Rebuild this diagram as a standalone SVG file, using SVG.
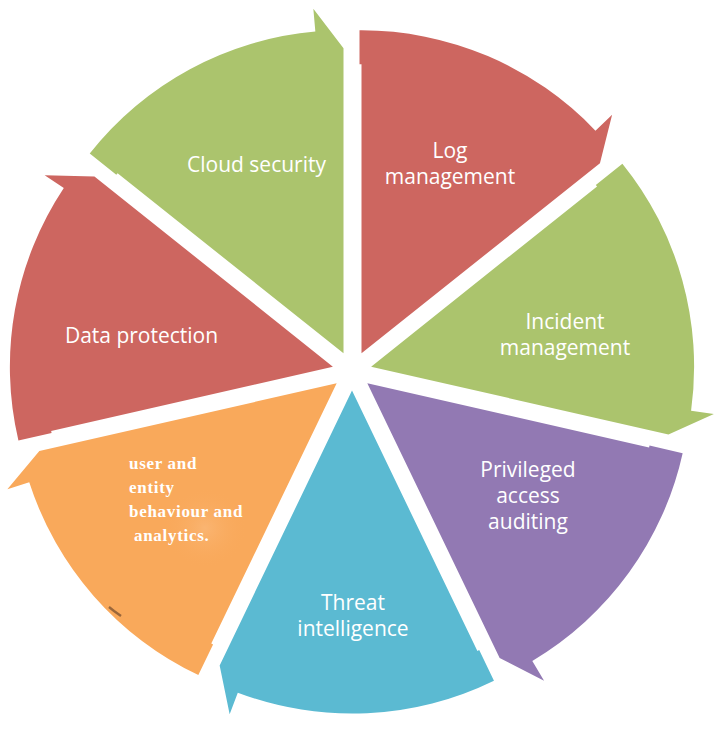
<svg xmlns="http://www.w3.org/2000/svg" width="717" height="743" viewBox="0 0 717 743">
  <defs>
    <style>
      .lbl { font-family: "Open Sans", "Noto Sans", sans-serif; font-size: 21px; fill: #ffffff; text-anchor: middle; }
      .ueba { font-family: "Liberation Serif", "Times New Roman", serif; font-size: 17px; font-weight: bold; fill: #ffffff; letter-spacing: 0.7px; }
      .red { fill: #CD6660; }
      .green { fill: #ABC46D; }
      .purple { fill: #9279B3; }
      .blue { fill: #5BBAD2; }
      .orange { fill: #F9A95B; }
    </style>
    <radialGradient id="glow" cx="0.5" cy="0.5" r="0.5">
      <stop offset="0" stop-color="#FBBF85" stop-opacity="0.9"/>
      <stop offset="1" stop-color="#F9A95B" stop-opacity="0"/>
    </radialGradient>
  </defs>
  <rect width="717" height="743" fill="#ffffff"/>

  <g id="log-management">
    <path class="red" d="M361.50,353.34 L361.50,64.34 L359.50,64.34 L359.50,30.34 A323,323 0 0,1 595.45,130.63 L612.11,114.77 L599.95,163.17 Z"/>
    <text class="lbl" x="450" y="158">Log<tspan x="450" dy="26">management</tspan></text>
  </g>

  <g id="incident-management">
    <path class="green" d="M371.11,366.64 L597.05,186.45 L595.80,184.89 L622.38,163.70 A323,323 0 0,1 691.08,410.79 L713.86,413.94 L668.45,434.50 Z"/>
    <text class="lbl" x="565" y="329">Incident<tspan x="565" dy="26">management</tspan></text>
  </g>

  <g id="privileged-access-auditing">
    <path class="purple" d="M367.32,383.22 L649.07,447.52 L649.52,445.57 L682.66,453.15 A323,323 0 0,1 532.31,660.90 L544.06,680.68 L499.66,658.03 Z"/>
    <text class="lbl" x="528" y="477">Privileged<tspan x="528" dy="26">access</tspan><tspan x="528" dy="26">auditing</tspan></text>
  </g>

  <g id="threat-intelligence">
    <path class="blue" d="M352,390.6 L477.40,650.99 L479.20,650.12 L493.96,680.72 A323,323 0 0,1 237.79,692.73 L229.65,714.25 L219.66,665.41 Z"/>
    <text class="lbl" x="353" y="610">Threat<tspan x="353" dy="26">intelligence</tspan></text>
  </g>

  <g id="user-entity-behaviour-analytics">
    <path class="orange" d="M336.68,383.22 L211.28,643.61 L213.08,644.48 L198.34,675.08 A323,323 0 0,1 29.25,482.28 L7.36,489.34 L39.34,451.08 Z"/>
    <ellipse cx="205" cy="528" rx="42" ry="40" fill="url(#glow)" opacity="0.6"/>
    <path d="M109,607 L114,611 L121,616" fill="none" stroke="#8A5A35" stroke-width="2.4" opacity="0.85"/>
    <text class="ueba" x="129" y="469">user and<tspan x="129" dy="24">entity</tspan><tspan x="129" dy="24">behaviour and</tspan><tspan x="134" dy="24">analytics.</tspan></text>
  </g>

  <g id="data-protection">
    <path class="red" d="M332.89,366.64 L51.14,430.94 L51.59,432.89 L18.42,440.45 A323,323 0 0,1 63.80,187.99 L44.64,175.27 L94.44,176.47 Z"/>
    <text class="lbl" x="141.5" y="343">Data protection</text>
  </g>

  <g id="cloud-security">
    <path class="green" d="M343.50,353.34 L117.56,173.15 L116.31,174.71 L89.75,153.53 A323,323 0 0,1 315.35,31.57 L313.34,8.66 L343.50,48.34 Z"/>
    <text class="lbl" x="256.5" y="172">Cloud security</text>
  </g>

  <g id="connectors"/>
</svg>
